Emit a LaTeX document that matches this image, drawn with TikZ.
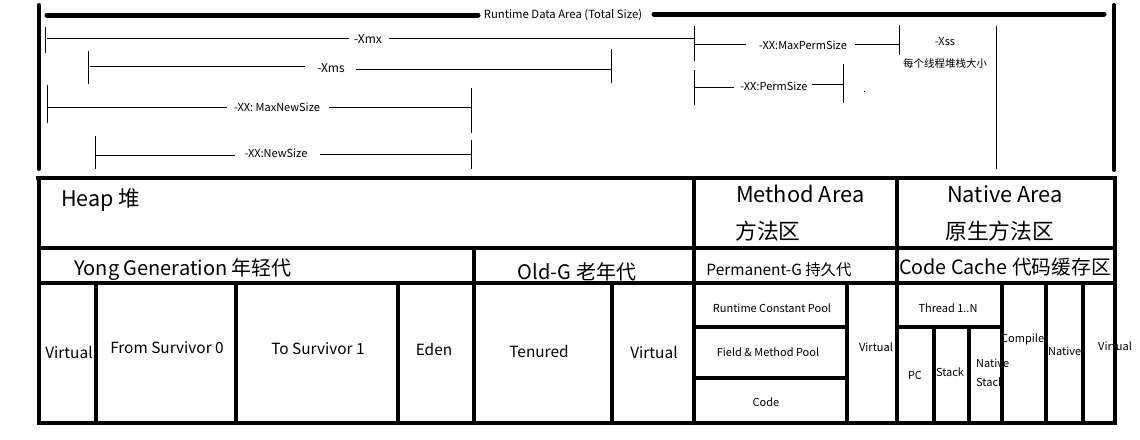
\documentclass[tikz,border=0pt]{standalone}
\usepackage{fontspec}
\setmainfont{Noto Sans CJK SC}
\begin{document}
\begin{tikzpicture}[x=1pt,y=-1pt,
  heavy/.style={line width=5pt,line cap=round},
  grid/.style={line width=4.5pt},
  dim/.style={line width=1pt},
  small/.style={inner sep=0pt,font=\fontsize{11.3}{13}\selectfont},
  mid/.style={inner sep=0pt,font=\fontsize{11}{13}\selectfont},
  cell/.style={inner sep=0pt,font=\fontsize{15.4}{18}\selectfont},
  big/.style={inner sep=0pt,font=\fontsize{20}{24}\selectfont},
  huge/.style={inner sep=0pt,font=\fontsize{21.8}{26}\selectfont}]
\useasboundingbox (0,0) rectangle (1140,439);
% ---------- top part: sizes ----------
\node[small] (rda) at (563,15) {Runtime Data Area (Total Size)};
\draw[heavy] (47,15) -- (478,15);
\draw[heavy] (654,14) -- (1104,14);
\draw[line width=4pt,line cap=round] (39,5) -- (39,169);
\draw[line width=4pt,line cap=round] (1114,5) -- (1114,170);
% -Xmx
\node[mid,font=\fontsize{12}{14}\selectfont] (xmx) at (368,39) {-Xmx};
\draw[dim] (45,27) -- (45,53);
\draw[dim] (47,38) -- (349,38);
\draw[dim] (389,38) -- (694,38);
\draw[dim] (694,26) -- (694,61);
% -Xms
\node[mid,font=\fontsize{12}{14}\selectfont] (xms) at (331,68) {-Xms};
\draw[dim] (88,51) -- (88,84);
\draw[dim] (90,66) -- (305,66);
\draw[dim] (356,69) -- (611,69);
\draw[dim] (611,49) -- (611,83);
% MaxNewSize
\node[mid] (mns) at (277,107) {-XX: MaxNewSize};
\draw[dim] (47,85) -- (47,123);
\draw[dim] (47,107) -- (227,107);
\draw[dim] (329,107) -- (471,107);
\draw[dim] (471,88) -- (471,133);
% NewSize
\node[mid] (ns) at (276,153) {-XX:NewSize};
\draw[dim] (95,136) -- (95,169);
\draw[dim] (95,155) -- (235,155);
\draw[dim] (320,154) -- (471,154);
\draw[dim] (471,140) -- (471,169);
% MaxPermSize
\node[mid] (mps) at (803,45) {-XX:MaxPermSize};
\draw[dim] (695,44) -- (746,44);
\draw[dim] (855,44) -- (899,44);
\draw[dim] (899,25) -- (899,55);
% PermSize
\node[mid] (ps) at (774,86) {-XX:PermSize};
\draw[dim] (694,70) -- (694,105);
\draw[dim] (694,87) -- (734,87);
\draw[dim] (812,84) -- (843,84);
\draw[dim] (843,64) -- (843,103);
\fill (863.5,90.5) rectangle (864.5,92);
% Xss
\node[mid] (xss) at (945,42) {-Xss};
\node[mid,font=\fontsize{10.5}{12}\selectfont] (xssd) at (945,63) {每个线程堆栈大小};
\draw[dim] (996,26) -- (996,169);
% ---------- table texts ----------
\node[big,anchor=west,font=\fontsize{21.5}{25}\selectfont] (heap) at (61,200) {Heap 堆};
\node[big] (yong) at (183,270) {Yong Generation 年轻代};
\node[big] (old) at (577,272) {Old-G 老年代};
\node[huge,anchor=west] (ma) at (736,194) {Method Area};
\node[huge,anchor=west] (mac) at (735,231) {方法区};
\node[huge,anchor=west] (na) at (947,194) {Native Area};
\node[huge,anchor=west] (nac) at (945,231) {原生方法区};
\node[cell] (perm) at (779,270) {Permanent-G 持久代};
\node[big,font=\fontsize{19.7}{23}\selectfont] (cc) at (1005,267) {Code Cache 代码缓存区};
\node[cell] (v1) at (69,352) {Virtual};
\node[cell] (fs) at (167,348) {From Survivor 0};
\node[cell] (ts) at (318,349) {To Survivor 1};
\node[cell] (eden) at (434,349) {Eden};
\node[cell] (ten) at (539,351) {Tenured};
\node[cell] (v2) at (654,352) {Virtual};
\node[mid] (rcp) at (772,308) {Runtime Constant Pool};
\node[mid] (fmp) at (768,352) {Field \& Method Pool};
\node[mid] (code) at (766,402) {Code};
\node[mid] (v3) at (876,347) {Virtual};
\node[mid] (thr) at (948,308) {Thread 1..N};
\node[mid] (pc) at (915,375) {PC};
\node[mid] (stk) at (950,372) {Stack};
\node[mid,anchor=west] (nat1) at (976,363) {Native};
\node[mid,anchor=west] (nat2) at (976,382) {Stack};
\node[mid,anchor=west] (comp) at (1001,339) {Compile};
\node[mid,anchor=west] (nat3) at (1048,351) {Native};
\node[mid,anchor=west] (v4) at (1098,346) {Virtual};
% ---------- table lines ----------
\draw[grid] (36,178) -- (1115,178);
\draw[grid] (39,178) rectangle (1115,423);
\draw[grid] (39,248) -- (1115,248);
\draw[grid] (39,283) -- (1115,283);
\draw[grid] (694,178) -- (694,423);
\draw[grid] (897,178) -- (897,423);
\draw[grid] (474,248) -- (474,423);
\foreach \x in {96,236,398,612} \draw[grid] (\x,283) -- (\x,423);
\draw[grid] (847,283) -- (847,423);
\draw[grid] (694,327) -- (847,327);
\draw[grid] (694,378) -- (847,378);
\draw[grid] (897,327) -- (1002,327);
\foreach \x in {934,969} \draw[grid] (\x,327) -- (\x,423);
\foreach \x in {1002,1046,1083} \draw[grid] (\x,283) -- (\x,423);
\end{tikzpicture}
\end{document}
